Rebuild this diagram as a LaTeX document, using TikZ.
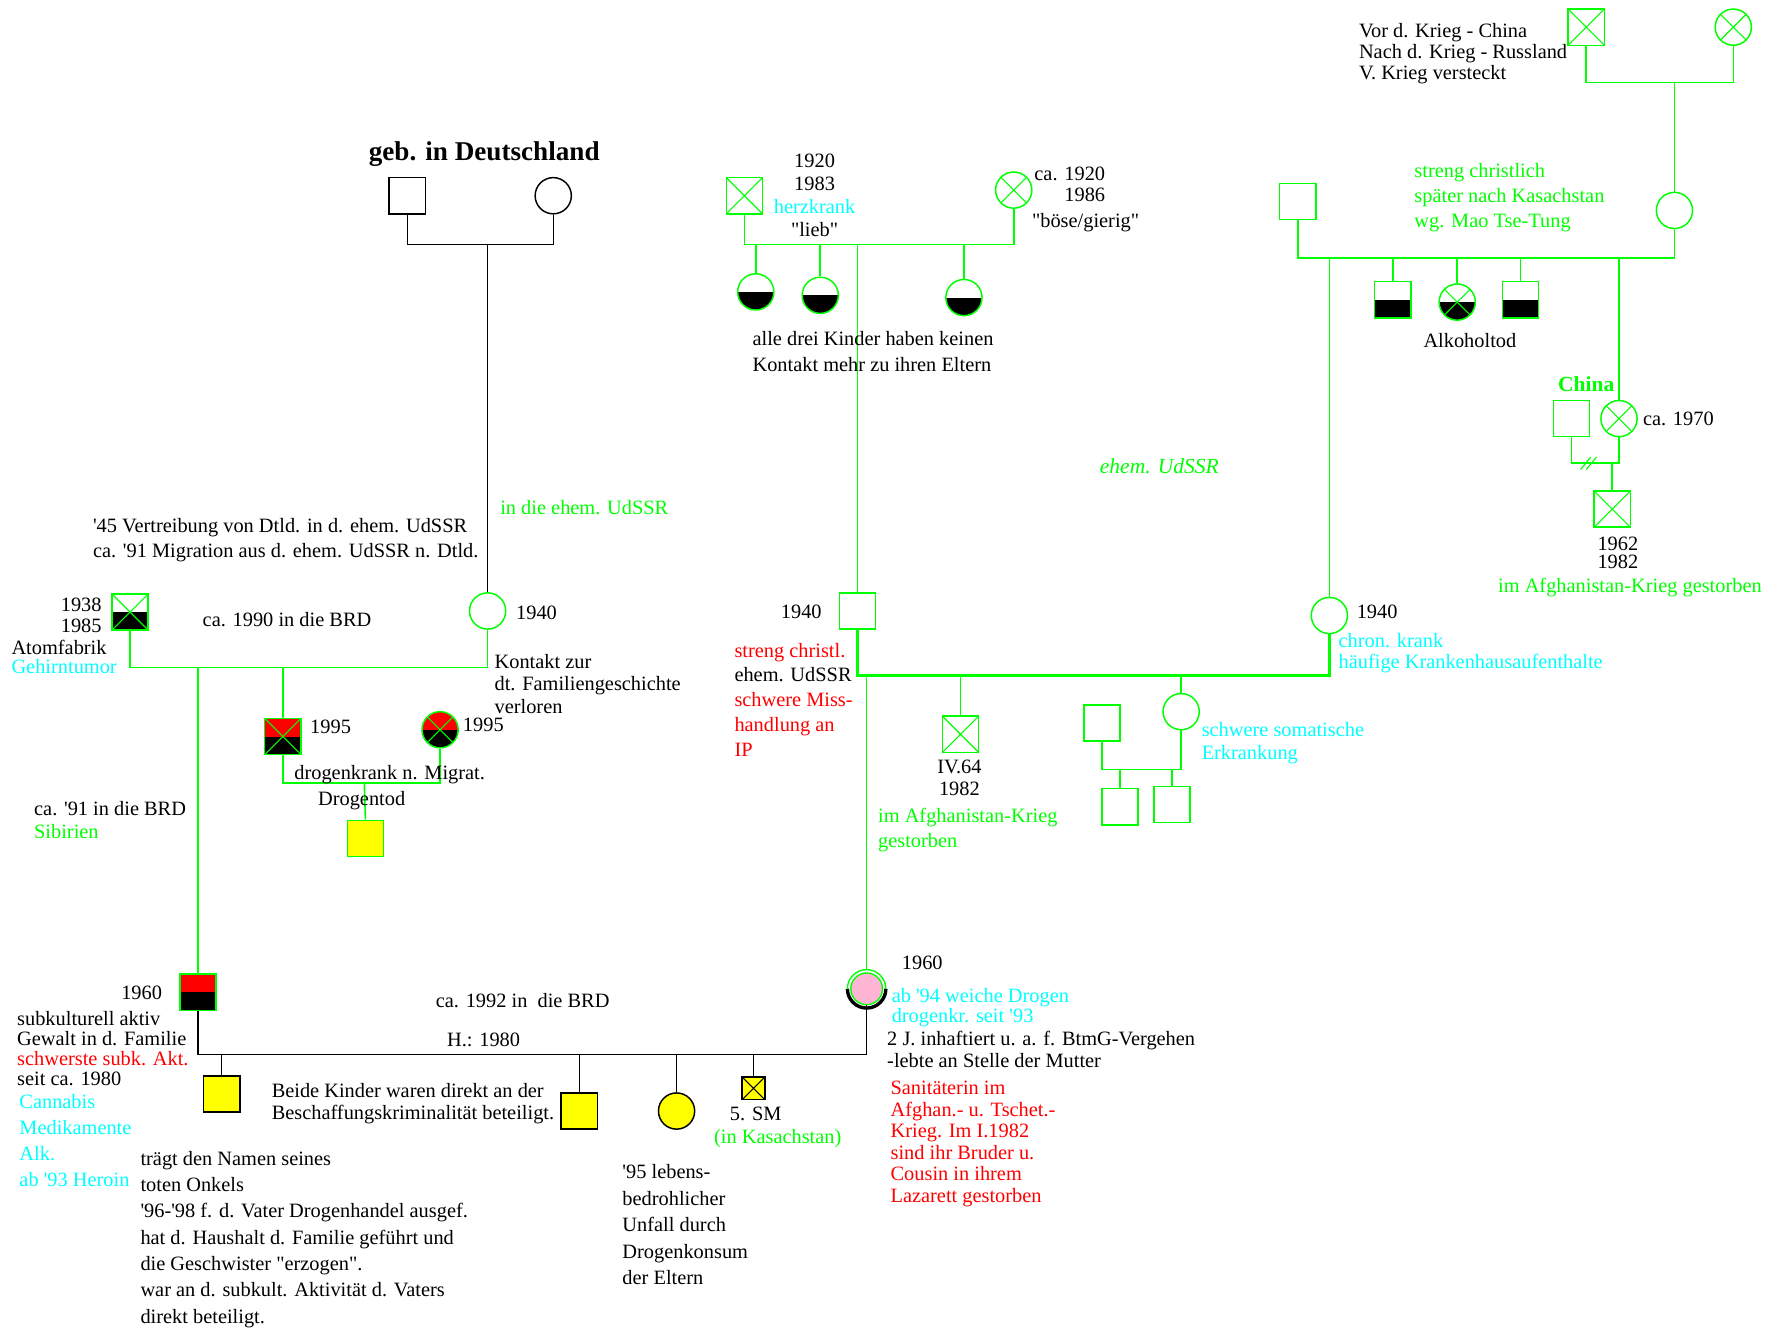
\documentclass[tikz,border=0pt]{standalone}
\usepackage{fontspec}
\setmainfont{Liberation Serif}
\usetikzlibrary{calc}
\definecolor{gr}{RGB}{0,255,0}
\definecolor{cy}{RGB}{0,255,255}
\definecolor{yl}{RGB}{255,255,0}
\definecolor{pk}{RGB}{255,182,213}
\newcommand\myfs[2]{\fontsize{#1}{#2}\selectfont}
\newcommand\tstrut{\rule{0pt}{15pt}}
\newcommand\qd{\textquotedbl}
\newcommand\qs{\textquotesingle}
\newcommand\lowfill[1]{\fill[#1] (path picture bounding box.west) rectangle (path picture bounding box.south east);}
\newcommand\upfill[1]{\fill[#1] (path picture bounding box.north west) rectangle (path picture bounding box.east);}
\newcommand\xcross[1]{\draw[#1,line width=1pt] (path picture bounding box.north west) -- (path picture bounding box.south east) (path picture bounding box.north east) -- (path picture bounding box.south west);}
\begin{document}
\begin{tikzpicture}[x=1pt,y=-1pt,
  gl/.style={draw=gr,line width=1.4pt},
  bl/.style={draw=black,line width=1.3pt},
  sq/.style={rectangle,draw=gr,line width=1.3pt,minimum size=32pt,inner sep=0pt},
  ci/.style={circle,draw=gr,line width=1.3pt,minimum size=32pt,inner sep=0pt},
  bsq/.style={sq,draw=black},
  bci/.style={ci,draw=black},
  xs/.style={path picture={\xcross{gr}}},
  hb/.style={path picture={\lowfill{black}}},
  hbx/.style={path picture={\lowfill{black}\xcross{gr}}},
  rb/.style={path picture={\upfill{red}\lowfill{black}}},
  rbx/.style={path picture={\upfill{red}\lowfill{black}\xcross{gr}}},
  txt/.style={inner sep=0pt,anchor=north west,align=left,font=\myfs{18}{#1}},
  txt/.default=22]
\fill[white] (0,0) rectangle (1568,1176);
\useasboundingbox (0,0) rectangle (1568,1176);

% ---------- top left (Germany) ----------
\node[bsq] (gd) at (360,173) {};
\node[bci] (gdm) at (489,173) {};
\coordinate (gdmar) at (431,216);
\draw[bl] (gd.south) |- (gdmar) -| (gdm.south);
\node[ci] (gmL) at (431,540) {};
\draw[bl] (gdmar) -- (gmL.north);

% ---------- left family ----------
\node[sq,hbx] (gfL) at (115,541) {};
\coordinate (mL) at (175,590);
\draw[gl] (gfL.south) |- (mL) -| (gmL.south);
\node[sq,rb] (fL) at (175,877) {};
\draw[gl] (mL) -- (fL.north);
\node[sq,rbx] (u1) at (250,651) {};
\draw[gl] (u1.north) -- (u1.north |- mL);
\node[ci,rbx] (u1w) at (389,645) {};
\coordinate (mU) at (322,692);
\draw[gl] (u1.south) |- (mU) -| (u1w.south);
\node[sq,fill=yl] (u1c) at (323,741) {};
\draw[gl] (mU) -- (u1c.north);

% ---------- middle top ----------
\node[sq,xs] (gfM) at (658,173) {};
\node[ci,xs] (gmM) at (896,168) {};
\coordinate (mM) at (758,216);
\draw[gl] (gfM.south) |- (mM) -| (gmM.south);
\foreach \n/\x/\y in {k1/668/258,k2/725/261,k3/852/263}{
  \node[ci,hb] (\n) at (\x,\y) {};
  \draw[gl] (\n.north) -- (\n.north |- mM);
}
\node[sq] (fM) at (758,540) {};
\draw[gl] (mM) -- (fM.north);

% ---------- top right ----------
\node[sq,xs] (ggf) at (1402,24) {};
\node[ci,xs] (ggm) at (1532,24) {};
\coordinate (mGG) at (1480,73);
\draw[gl] (ggf.south) |- (mGG) -| (ggm.south);
\node[ci] (gmR) at (1480,186) {};
\draw[gl] (mGG) -- (gmR.north);
\node[sq] (gfR) at (1147,178) {};
\coordinate (mR) at (1175,228);
\draw[gl] (gfR.south) |- (mR) -| (gmR.south);
\node[sq,hb] (r1) at (1231,265) {};
\node[ci,hbx] (r2) at (1288,267) {};
\node[sq,hb] (r3) at (1344,265) {};
\foreach \n in {r1,r2,r3}{\draw[gl] (\n.north) -- (\n.north |- mR);}
\node[ci] (mMid) at (1175,544) {};
\draw[gl] (mR) -- (mMid.north);
\node[ci,xs] (aunt) at (1431,370) {};
\draw[gl] (aunt.north) -- (aunt.north |- mR);
\node[sq] (chM) at (1389,370) {};
\coordinate (mC) at (1425,409);
\draw[gl] (chM.south) |- (mC) -| (aunt.south);
\draw[gr,line width=1pt] (1397,415) -- (1406,404) (1402,415) -- (1411,404);
\node[sq,xs] (cous) at (1425,450) {};
\draw[gl] (mC) -- (cous.north);

% ---------- middle generation ----------
\coordinate (mP) at (849,597);
\draw[gr,line width=2.2pt] (fM.south) |- (mP) -| (mMid.south);
\node[circle,minimum size=28pt,inner sep=0pt,fill=pk,draw=gr,line width=1.2pt] (mo) at (766,874) {};
\draw[black,line width=3pt] (mo.center) ++(17,0) arc[start angle=0,end angle=180,radius=17];
\draw[gr,line width=1.2pt] (mo.center) ++(-17,0) arc[start angle=180,end angle=360,radius=17];
\draw[gl] ($(mo.north)+(0,-3)$) -- (mo.north |- mP);
\node[sq,xs] (unc) at (849,649) {};
\draw[gl] (unc.north) -- (mP);
\node[ci] (aunt2) at (1044,629) {};
\draw[gl] (aunt2.north) -- (aunt2.north |- mP);
\node[sq] (a2h) at (974,639) {};
\coordinate (mA) at (1013,680);
\draw[gl] (a2h.south) |- (mA) -| (aunt2.south);
\node[sq] (c1) at (990,713) {};
\node[sq] (c2) at (1036,711) {};
\foreach \n in {c1,c2}{\draw[gl] (\n.north) -- (\n.north |- mA);}

% ---------- bottom generation ----------
\coordinate (mB) at (470,932);
\draw[bl] (fL.south) |- (mB) -| (mo.south);
\node[bsq,fill=yl] (b1) at (196,967) {};
\node[bsq,fill=yl] (b2) at (512,982) {};
\node[bci,fill=yl] (b3) at (598,982) {};
\node[bsq,fill=yl,minimum size=20pt,path picture={\xcross{black}}] (b4) at (666,962) {};
\foreach \n in {b1,b2,b3,b4}{\draw[bl] (\n.north) -- (\n.north |- mB);}

% ---------- texts ----------
\node[inner sep=0pt,anchor=base,font=\myfs{24}{28}\bfseries] (tgeb) at (428,142) {geb. in Deutschland};
\node[txt] (t45) at (82,455.5) {\tstrut\qs 45 Vertreibung von Dtld. in d. ehem. UdSSR\\ca. \qs 91 Migration aus d. ehem. UdSSR n. Dtld.};
\node[txt,text=gr] (tudssr) at (442,439.5) {\tstrut in die ehem. UdSSR};
\node[txt=18,anchor=north east,align=right] (t1938) at (90,525.5) {\tstrut 1938\\1985};
\node[txt=17] (tatom) at (10,563.5) {\tstrut Atomfabrik\\\textcolor{cy}{Gehirntumor}};
\node[txt] (t1990) at (179,538.5) {\tstrut ca. 1990 in die BRD};
\node[txt] (t1940a) at (456,532.5) {\tstrut 1940};
\node[txt=20] (tkont) at (437,575.5) {\tstrut Kontakt zur\\dt. Familiengeschichte\\verloren};
\node[txt] (t1995a) at (274,633.5) {\tstrut 1995};
\node[txt] (t1995b) at (409,631.5) {\tstrut 1995};
\node[txt] (tdrog) at (260,673.5) {\tstrut drogenkrank n. Migrat.};
\node[txt] (tdtod) at (281,696.5) {\tstrut Drogentod};
\node[txt=20] (t91) at (30,705.5) {\tstrut ca. \qs 91 in die BRD\\\textcolor{gr}{Sibirien}};

\node[txt=20.5,anchor=north,align=center] (t1920) at (720,132.5) {\tstrut 1920\\1983\\\textcolor{cy}{herzkrank}\\\qd lieb\qd};
\node[txt=18,anchor=north east,align=right] (tca1920) at (977,144.5) {\tstrut ca. 1920\\1986};
\node[txt] (tboese) at (912,185.5) {\tstrut\qd böse/gierig\qd};
\node[txt=23] (talle) at (665,290.5) {\tstrut alle drei Kinder haben keinen\\Kontakt mehr zu ihren Eltern};

\node[txt=19] (tvor) at (1201,17.5) {\tstrut Vor d. Krieg - China\\Nach d. Krieg - Russland\\V. Krieg versteckt};
\node[txt,text=gr] (tstreng) at (1250,141.5) {\tstrut streng christlich\\später nach Kasachstan\\wg. Mao Tse-Tung};
\node[txt] (talk) at (1258,291.5) {\tstrut Alkoholtod};
\node[txt,text=gr,font=\myfs{19}{22}\bfseries] (tchina) at (1377,330.5) {\tstrut China};
\node[txt] (tca1970) at (1452,360.5) {\tstrut ca. 1970};
\node[txt=16,anchor=north,align=center] (t1962) at (1430,471.5) {\tstrut 1962\\1982};
\node[txt,text=gr] (tafg1) at (1324,508.5) {\tstrut im Afghanistan-Krieg gestorben};
\node[txt,text=gr,font=\myfs{19}{22}\itshape] (tehem) at (972,403.5) {\tstrut ehem. UdSSR};

\node[txt] (t1940b) at (690,531.5) {\tstrut 1940};
\node[txt] (t1940c) at (1199,531.5) {\tstrut 1940};
\node[txt,text=red] (tchristl) at (649,565.5) {\tstrut streng christl.\\\textcolor{black}{ehem. UdSSR}\\schwere Miss-\\handlung an\\IP};
\node[txt=18,text=cy] (tchron) at (1183,557.5) {\tstrut chron. krank\\häufige Krankenhausaufenthalte};
\node[txt=19,anchor=north,align=center] (tiv) at (848,668.5) {\tstrut IV.64\\1982};
\node[txt,text=gr] (tafg2) at (776,711.5) {\tstrut im Afghanistan-Krieg\\gestorben};
\node[txt=21,text=cy] (tsom) at (1062,635.5) {\tstrut schwere somatische\\Erkrankung};

\node[txt] (t1960a) at (107,868.5) {\tstrut 1960};
\node[txt=17.5] (tsubk) at (15,891.5) {\tstrut subkulturell aktiv\\Gewalt in d. Familie\\\textcolor{red}{schwerste subk. Akt.}\\seit ca. 1980};
\node[txt=23,text=cy] (tcann) at (17,964.5) {\tstrut Cannabis\\Medikamente\\Alk.\\ab \qs 93 Heroin};
\node[txt] (t1960b) at (797,841.5) {\tstrut 1960};
\node[txt=18,text=cy] (tweich) at (788,870.5) {\tstrut ab \qs 94 weiche Drogen\\drogenkr. seit \qs 93};
\node[txt=20] (thaft) at (784,908.5) {\tstrut 2 J. inhaftiert u. a. f. BtmG-Vergehen\\-lebte an Stelle der Mutter};
\node[txt=19,text=red] (tsanit) at (787,952.5) {\tstrut Sanitäterin im\\Afghan.- u. Tschet.-\\Krieg. Im I.1982\\sind ihr Bruder u.\\Cousin in ihrem\\Lazarett gestorben};
\node[txt] (t1992) at (385,875.5) {\tstrut ca. 1992 in\ \ die BRD};
\node[txt] (th1980) at (395,909.5) {\tstrut H.: 1980};
\node[txt=20] (tbeide) at (240,954.5) {\tstrut Beide Kinder waren direkt an der\\Beschaffungskriminalität beteiligt.};
\node[txt] (tsm) at (645,975.5) {\tstrut 5. SM};
\node[txt,text=gr] (tkas) at (631,995.5) {\tstrut (in Kasachstan)};
\node[txt=23.5] (t95) at (550,1026.5) {\tstrut\qs 95 lebens-\\bedrohlicher\\Unfall durch\\Drogenkonsum\\der Eltern};
\node[txt=23.3] (ttraegt) at (124,1014.5) {\tstrut trägt den Namen seines\\toten Onkels\\\qs 96-\qs 98 f. d. Vater Drogenhandel ausgef.\\hat d. Haushalt d. Familie geführt und\\die Geschwister \qd erzogen\qd.\\war an d. subkult. Aktivität d. Vaters\\direkt beteiligt.};
\end{tikzpicture}
\end{document}
